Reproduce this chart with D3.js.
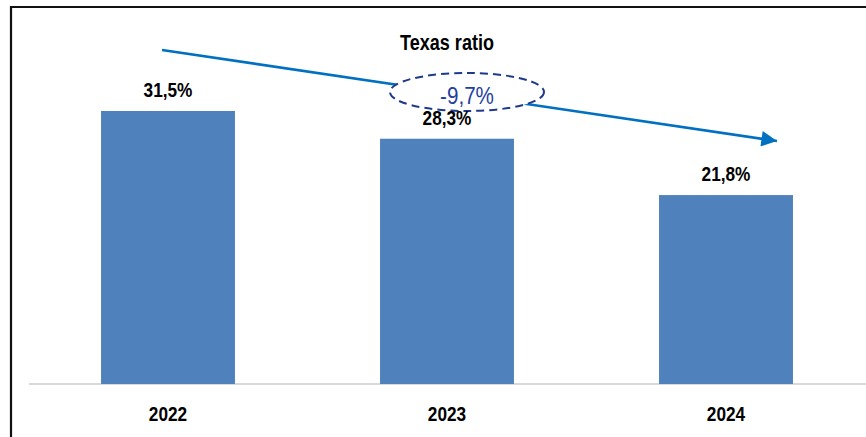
<!DOCTYPE html>
<html><head><meta charset="utf-8">
<script src="https://cdn.jsdelivr.net/npm/d3@7"></script>
<style>html,body{margin:0;padding:0;background:#fff;}svg{display:block;}</style>
</head><body>
<script>
const categories = ["2022", "2023", "2024"];
const values = [31.5, 28.3, 21.8];
const valueLabels = ["31,5%", "28,3%", "21,8%"];
const title = "Texas ratio";
const changeLabel = "-9,7%";

const W = 866, H = 437;
const svg = d3.select("body").append("svg").attr("width", W).attr("height", H);
const font = "'Liberation Sans','Arial',sans-serif";
const SX = 0.82;

function narrowText(parent, cx, cy, txt, size, weight, color, sx) {
  const g = parent.append("g").attr("transform", `translate(${cx},${cy}) scale(${sx || SX},1)`);
  g.append("text").attr("x", 0).attr("y", 0).attr("text-anchor", "middle")
    .attr("font-family", font).attr("font-weight", weight).attr("font-size", size)
    .attr("fill", color).text(txt);
  return g;
}

// frame
svg.append("path").attr("d", "M11,437 V7 H866").attr("fill", "none").attr("stroke", "#111").attr("stroke-width", 2.2);

const x = d3.scaleBand().domain(categories).range([28.5, 865.5]).paddingInner(0.52).paddingOuter(0.26);
const y = d3.scaleLinear().domain([0, 31.5]).range([384, 111]);

svg.append("line").attr("x1", 29).attr("x2", 866).attr("y1", y(0)).attr("y2", y(0))
  .attr("stroke", "#d9d9d9").attr("stroke-width", 2);

svg.selectAll("rect.bar").data(values).enter().append("rect")
  .attr("x", (d, i) => x(categories[i])).attr("width", x.bandwidth())
  .attr("y", d => y(d)).attr("height", d => y(0) - y(d))
  .attr("fill", "#4F81BD");

// x axis labels
const xAxis = d3.axisBottom(x).tickSize(0).tickPadding(0);
const gx = svg.append("g").attr("transform", `translate(0,${y(0)})`).call(xAxis);
gx.select(".domain").remove();
gx.selectAll(".tick text").attr("y", 37).attr("dy", 0).attr("font-family", font).attr("font-weight", "bold")
  .attr("font-size", 21).attr("fill", "#000").attr("transform", `scale(${SX},1)`)
  .attr("x", 0);

// title
narrowText(svg, 447, 50, title, 22, "bold", "#000");

// trend arrow
const defs = svg.append("defs");
defs.append("marker").attr("id", "ah").attr("viewBox", "0 0 10 10").attr("refX", 10).attr("refY", 5)
  .attr("markerWidth", 6.5).attr("markerHeight", 6).attr("markerUnits", "strokeWidth").attr("orient", "auto")
  .append("path").attr("d", "M0,0 L10,5 L0,10 Z").attr("fill", "#0070C0");
svg.append("line").attr("x1", 162).attr("y1", 50).attr("x2", 777).attr("y2", 141)
  .attr("stroke", "#0070C0").attr("stroke-width", 2.6).attr("marker-end", "url(#ah)");

svg.append("ellipse").attr("cx", 467).attr("cy", 92).attr("rx", 77).attr("ry", 19)
  .attr("fill", "#fff").attr("stroke", "#1F3A8A").attr("stroke-width", 2).attr("stroke-dasharray", "8,5");
narrowText(svg, 467, 104, changeLabel, 24, "normal", "#1F3F9F", 0.86);

// value labels
values.forEach((d, i) => {
  narrowText(svg, x(categories[i]) + x.bandwidth() / 2, y(d) - 14, valueLabels[i], 21, "bold", "#000");
});
</script>
</body></html>
